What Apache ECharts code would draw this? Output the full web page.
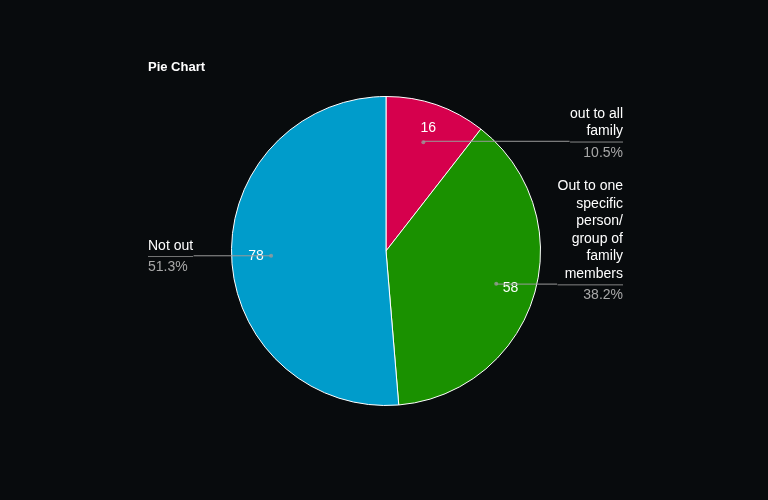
<!DOCTYPE html>
<html>
<head>
<meta charset="utf-8">
<script src="https://cdn.jsdelivr.net/npm/echarts@6/dist/echarts.min.js"></script>
<style>
  html, body { margin: 0; padding: 0; background: #080b0d; }
  #chart { width: 768px; height: 500px; }
</style>
</head>
<body>
<div id="chart"></div>
<script>
// data
const categories = ['out to all family', 'Out to one specific person/group of family members', 'Not out'];
const values = [16, 58, 78];
const colors = ['#d6004d', '#1a9100', '#009ccb'];

const CENTER = [386, 251];
const R = 154.5;
const DOT_R = 115;
const LH = 17.5;

// greedy wrap on spaces and after '/'
function wrap(str, max) {
  const words = str.replace(/\//g, '/ ').split(' ').filter(w => w);
  const lines = [];
  let line = '';
  words.forEach(w => {
    const cand = line ? line + (line.endsWith('/') ? '' : ' ') + w : w;
    if (cand.length > max && line) {
      lines.push(line);
      line = w;
    } else {
      line = cand;
    }
  });
  if (line) lines.push(line);
  return lines;
}

const total = values.reduce((a, b) => a + b, 0);
let acc = 0;
const dots = values.map(v => {
  const mid = acc + v / 2;
  acc += v;
  return [DOT_R, mid];
});

const pieData = categories.map((name, i) => ({
  name: name,
  value: values[i],
  itemStyle: { color: colors[i] }
}));

const chart = echarts.init(document.getElementById('chart'));

const option = {
  backgroundColor: '#080b0d',
  animation: false,
  title: {
    text: 'Pie Chart',
    left: 148,
    top: 61,
    padding: 0,
    textStyle: { color: '#ffffff', fontSize: 13, fontWeight: 'bold', fontFamily: 'Liberation Sans, Arial, sans-serif' }
  },
  polar: { center: CENTER, radius: R },
  angleAxis: { type: 'value', min: 0, max: total, startAngle: 90, show: false },
  radiusAxis: { type: 'value', min: 0, max: R, show: false },
  series: [
    {
      type: 'pie',
      center: CENTER,
      radius: [0, R],
      startAngle: 90,
      silent: true,
      label: { show: false },
      labelLine: { show: false },
      itemStyle: { borderColor: '#ffffff', borderWidth: 1 },
      data: pieData
    },
    {
      // value labels inside the slices
      type: 'pie',
      center: CENTER,
      radius: [112, 142],
      startAngle: 90,
      silent: true,
      z: 3,
      itemStyle: { color: 'transparent' },
      label: {
        show: true,
        position: 'inside',
        formatter: '{c}',
        color: '#ffffff',
        fontSize: 14,
        fontFamily: 'Liberation Sans, Arial, sans-serif'
      },
      labelLine: { show: false },
      data: categories.map((name, i) => ({ name: name, value: values[i] }))
    },
    {
      // outside labels with leader lines
      type: 'pie',
      center: CENTER,
      radius: [0, DOT_R],
      startAngle: 90,
      silent: true,
      z: 4,
      percentPrecision: 1,
      itemStyle: { color: 'transparent' },
      label: {
        show: true,
        position: 'outside',
        alignTo: 'edge',
        edgeDistance: 145,
        distanceToLabelLine: 0,
        fontFamily: 'Liberation Sans, Arial, sans-serif',
        formatter: p => wrap(p.name, 10).map(l => '{name|' + l + '}').join('\n') +
          '\n{gap|}\n{hr|}\n{gap|}\n{pct|' + p.percent.toFixed(1) + '%}',
        rich: {
          name: { color: '#ffffff', fontSize: 14, lineHeight: LH },
          pct: { color: '#a8a8a8', fontSize: 14, lineHeight: LH },
          gap: { height: 2, lineHeight: 2 },
          hr: { borderColor: '#9a9a9a', borderWidth: 0.5, width: '100%', height: 0, lineHeight: 0 }
        }
      },
      labelLine: {
        show: true,
        length: 1,
        length2: 10,
        lineStyle: { color: '#9a9a9a', width: 1 }
      },
      labelLayout: p => ({ dy: LH + 1 - p.labelRect.height / 2 }),
      data: categories.map((name, i) => ({
        name: name,
        value: values[i],
        label: i === 2 ? { edgeDistance: 148 } : {}
      }))
    },
    {
      type: 'scatter',
      coordinateSystem: 'polar',
      symbolSize: 4,
      silent: true,
      z: 5,
      itemStyle: { color: '#9a9a9a' },
      data: dots
    }
  ]
};

chart.setOption(option);
</script>
</body>
</html>
